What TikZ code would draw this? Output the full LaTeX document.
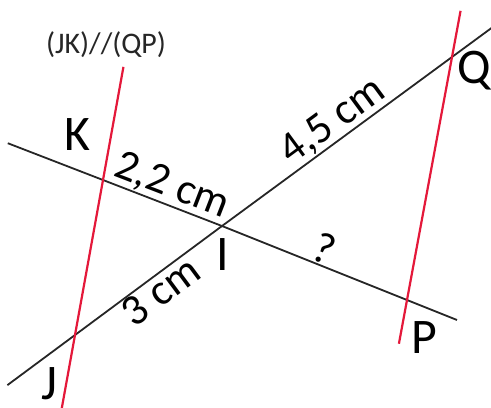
\documentclass[tikz,border=0pt]{standalone}
\usepackage{fontspec}
\setmainfont{Carlito}
\usetikzlibrary{calc}
\definecolor{parred}{RGB}{228,24,58}

\begin{document}
\begin{tikzpicture}[x=1bp, y=-1bp,
    seg/.style={line width=1.8bp, black!85},
    par/.style={line width=2.2bp, parred},
    pt/.style={inner sep=0pt, font=\fontsize{50}{50}\selectfont},
    len/.style={inner sep=1.5bp, sloped, font=\fontsize{44}{44}\selectfont}]
    \useasboundingbox (0,0) rectangle (491,407);
    \coordinate (I) at (222,226);
    \coordinate (K) at (103,180);
    \coordinate (J) at (75,335);
    \coordinate (Q) at (452,57);
    \coordinate (P) at (407,300);
    % line ends
    \coordinate (E1) at ($(I)!1.8!(K)$);
    \coordinate (E2) at ($(I)!1.27!(P)$);
    \coordinate (E3) at ($(I)!1.46!(J)$);
    \coordinate (E4) at ($(I)!1.2!(Q)$);
    \coordinate (R1) at ($(J)!1.73!(K)$);
    \coordinate (R2) at ($(K)!1.5!(J)$);
    \coordinate (R3) at ($(P)!1.19!(Q)$);
    \coordinate (R4) at ($(Q)!1.18!(P)$);
    \draw[seg] (E1) -- (K) -- (I) -- (P) -- (E2);
    \draw[seg] (E3) -- (J) -- (I) -- (Q) -- (E4);
    \draw[par] (R1) -- (K) -- (J) -- (R2);
    \draw[par] (R3) -- (Q) -- (P) -- (R4);
    \path (K) -- (I) node[len, above, pos=0.52] (lKI) {2,2 cm};
    \path (I) -- (Q) node[len, above, pos=0.53] (lIQ) {4,5 cm};
    \path (J) -- (I) node[len, below, pos=0.52] (lJI) {3 cm};
    \path (I) -- (P) node[len, above, pos=0.52] (lIP) {?};
    \node[pt] (labK) at (77,135) {K};
    \node[pt] (labI) at (223,255) {I};
    \node[pt, anchor=north] (labJ) at (49,367) {J};
    \node[pt] (labP) at (424,338) {P};
    \node[pt] (labQ) at (474,71) {Q};
    \node[font=\fontsize{30}{30}\selectfont, text=black!85] (title) at (106,45) {(JK)//(QP)};
\end{tikzpicture}
\end{document}
